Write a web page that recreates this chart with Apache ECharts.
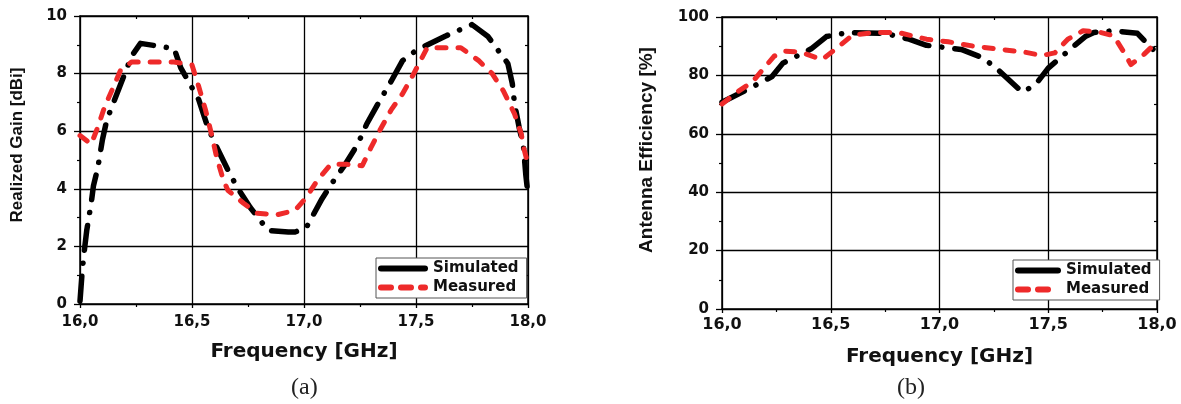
<!DOCTYPE html>
<html>
<head>
<meta charset="utf-8">
<script src="https://cdn.jsdelivr.net/npm/echarts@6/dist/echarts.min.js"></script>
<style>
html,body{margin:0;padding:0;background:#fff;}
#c{width:1181px;height:404px;}
</style>
</head>
<body>
<div id="c"></div>
<script>
// ---- Panel (a): Realized Gain [dBi] ----
const freqSimA = [16.0, 16.01, 16.02, 16.03, 16.05, 16.06, 16.08, 16.1, 16.12, 16.15, 16.19, 16.23, 16.27, 16.42, 16.45, 16.49, 16.53, 16.57, 16.61, 16.67, 16.71, 16.76, 16.84, 16.93, 16.96, 17.01, 17.08, 17.13, 17.18, 17.24, 17.28, 17.33, 17.39, 17.44, 17.5, 17.63, 17.75, 17.82, 17.91, 17.93, 17.94, 17.96, 17.98, 17.99, 18.0];
const gainSim  = [0.1, 1.16, 1.9, 2.55, 3.5, 4.1, 4.75, 5.7, 6.4, 7.0, 7.8, 8.6, 9.05, 8.87, 8.2, 7.65, 7.1, 6.15, 5.45, 4.5, 3.95, 3.35, 2.55, 2.5, 2.5, 2.65, 3.65, 4.25, 4.8, 5.55, 6.25, 6.95, 7.75, 8.45, 8.8, 9.3, 9.7, 9.3, 8.35, 7.65, 6.95, 6.15, 5.45, 4.5, 3.8];
const freqMeasA = [16.0, 16.05, 16.08, 16.11, 16.15, 16.18, 16.23, 16.31, 16.42, 16.5, 16.53, 16.56, 16.59, 16.61, 16.64, 16.66, 16.73, 16.79, 16.88, 16.96, 17.01, 17.06, 17.12, 17.19, 17.26, 17.3, 17.34, 17.39, 17.44, 17.49, 17.53, 17.55, 17.63, 17.7, 17.78, 17.84, 17.89, 17.94, 17.97, 17.98, 18.0];
const gainMeas  = [5.85, 5.55, 6.15, 6.85, 7.55, 8.1, 8.4, 8.4, 8.4, 8.3, 7.55, 6.75, 5.8, 5.1, 4.3, 3.95, 3.5, 3.15, 3.1, 3.25, 3.7, 4.3, 4.85, 4.85, 4.8, 5.45, 6.05, 6.75, 7.3, 8.0, 8.6, 8.9, 8.9, 8.9, 8.45, 8.0, 7.4, 6.6, 5.9, 5.45, 4.85];

// ---- Panel (b): Antenna Efficiency [%] ----
const freqSimB = [16.0, 16.14, 16.23, 16.28, 16.41, 16.48, 16.58, 16.75, 16.86, 16.94, 17.1, 17.2, 17.27, 17.38, 17.44, 17.5, 17.6, 17.67, 17.71, 17.8, 17.91, 17.98, 18.0];
const effSim   = [70.8, 76.1, 79.6, 84.2, 89.1, 93.3, 94.7, 94.4, 92.4, 90.3, 88.9, 86.0, 81.9, 74.3, 76.7, 82.5, 88.9, 93.3, 94.7, 95.3, 94.4, 88.9, 90.0];
const freqMeasB = [16.0, 16.07, 16.14, 16.2, 16.24, 16.29, 16.36, 16.46, 16.52, 16.6, 16.7, 16.81, 16.94, 17.04, 17.15, 17.28, 17.39, 17.47, 17.53, 17.59, 17.66, 17.74, 17.8, 17.85, 17.88, 17.94, 18.0];
const effMeas   = [70.2, 74.3, 77.8, 83.1, 86.6, 88.3, 88.0, 85.4, 88.9, 93.8, 94.7, 94.7, 92.4, 91.5, 90.1, 88.9, 88.0, 86.8, 87.7, 92.4, 95.3, 94.7, 93.6, 87.7, 83.7, 87.2, 91.5];

// ---- Axis ticks / labels ----
const xTicks = [16.0, 16.5, 17.0, 17.5, 18.0];
const yTicksA = [0, 2, 4, 6, 8, 10];
const yTicksB = [0, 20, 40, 60, 80, 100];
const seriesNames = ['Simulated', 'Measured'];
const xTitle = 'Frequency [GHz]';
const yTitleA = 'Realized Gain [dBi]';
const yTitleB = 'Antenna Efficiency [%]';
const panelLabels = ['(a)', '(b)'];

const pairs = (xs, ys) => xs.map((x, i) => [x, ys[i]]);
const BOLD = 'DejaVu Sans';
const RED = '#ee2a2a';
const simStyle = {color: '#000', width: 5.5, type: [25, 13, 0.1, 13], cap: 'round', join: 'round'};
const measStyle = {color: RED, width: 5, type: [9, 12], cap: 'round', join: 'round'};

function xAx(grid, fontSize, margin) {
  return {
    type: 'value', gridIndex: grid, min: xTicks[0], max: xTicks[xTicks.length - 1], interval: 0.5,
    name: xTitle, nameLocation: 'middle', nameGap: 38,
    nameTextStyle: {fontFamily: BOLD, fontWeight: 'bold', fontSize: 20, color: '#111'},
    axisLine: {show: true, onZero: false, lineStyle: {color: '#000', width: 1.5}},
    axisTick: {show: true, length: 4, lineStyle: {color: '#000', width: 1.3}},
    minorTick: {show: true, splitNumber: 2, length: 3, lineStyle: {color: '#000', width: 1.2}},
    splitLine: {show: true, lineStyle: {color: '#000', width: 1.3}},
    axisLabel: {fontFamily: BOLD, fontWeight: 'bold', fontSize: fontSize, color: '#111', margin: margin,
      formatter: v => v.toFixed(1).replace('.', ',')}
  };
}
function xTop(grid) {
  return {
    type: 'value', gridIndex: grid, position: 'top', min: xTicks[0], max: xTicks[xTicks.length - 1], interval: 0.5,
    axisLine: {show: true, onZero: false, lineStyle: {color: '#000', width: 1.5}},
    axisTick: {show: false, inside: true},
    minorTick: {show: true, splitNumber: 2, length: 3, lineStyle: {color: '#000', width: 1.2}},
    axisLabel: {show: false}, splitLine: {show: false}
  };
}
function yAx(grid, ticks, name, nameGap, fontSize, nameSize, shift) {
  return {
    type: 'value', gridIndex: grid, min: ticks[0], max: ticks[ticks.length - 1], interval: ticks[1] - ticks[0],
    name: name, nameLocation: 'middle', nameGap: nameGap, nameRotate: 90,
    nameTextStyle: {fontFamily: 'Liberation Sans', fontWeight: 'bold', fontSize: nameSize, color: '#111', padding: [0, 0, 0, shift]},
    axisLine: {show: true, onZero: false, lineStyle: {color: '#000', width: 1.5}},
    axisTick: {show: true, length: 6, lineStyle: {color: '#000', width: 1.3}},
    minorTick: {show: true, splitNumber: 2, length: 3, lineStyle: {color: '#000', width: 1.2}},
    splitLine: {show: true, lineStyle: {color: '#000', width: 1.3}},
    axisLabel: {fontFamily: BOLD, fontWeight: 'bold', fontSize: fontSize, color: '#111', margin: 13}
  };
}
function yRight(grid, ticks) {
  return {
    type: 'value', gridIndex: grid, position: 'right', min: ticks[0], max: ticks[ticks.length - 1], interval: ticks[1] - ticks[0],
    axisLine: {show: true, onZero: false, lineStyle: {color: '#000', width: 1.5}},
    axisTick: {show: false, inside: true},
    minorTick: {show: true, splitNumber: 2, length: 3, lineStyle: {color: '#000', width: 1.2}},
    axisLabel: {show: false}, splitLine: {show: false}
  };
}
function legendAt(left, top, iconW) {
  return {
    left: left, top: top, orient: 'vertical', itemGap: 4, itemWidth: iconW, itemHeight: 14,
    padding: [3, 8, 3, 2], borderColor: '#555', borderWidth: 1, backgroundColor: '#fff',
    textStyle: {fontFamily: BOLD, fontWeight: 'bold', fontSize: 15, color: '#111', padding: [0, 0, 0, 3]},
    data: [
      {name: seriesNames[0], itemStyle: {opacity: 0}, lineStyle: {color: '#000', width: 6, type: 'solid', cap: 'round'}},
      {name: seriesNames[1], itemStyle: {opacity: 0}, lineStyle: {color: RED, width: 6, type: [10, 10], cap: 'round'}}
    ]
  };
}

const chart = echarts.init(document.getElementById('c'), null, {renderer: 'canvas'});
chart.setOption({
  animation: false,
  backgroundColor: '#fff',
  grid: [
    {left: 80, top: 16, width: 448, height: 288},
    {left: 722, top: 17, width: 435, height: 292}
  ],
  xAxis: [xAx(0, 15, 11), xAx(1, 16, 8), xTop(0), xTop(1)],
  yAxis: [yAx(0, yTicksA, yTitleA, 54, 15, 17, 30), yAx(1, yTicksB, yTitleB, 66, 15, 19, 26), yRight(0, yTicksA), yRight(1, yTicksB)],
  legend: [legendAt(376, 258, 44), legendAt(1013, 260, 40)],
  series: [
    {name: seriesNames[0], type: 'line', xAxisIndex: 0, yAxisIndex: 0, data: pairs(freqSimA, gainSim), showSymbol: false, symbol: 'none', lineStyle: simStyle, itemStyle: {color: '#000'}, z: 3},
    {name: seriesNames[1], type: 'line', xAxisIndex: 0, yAxisIndex: 0, data: pairs(freqMeasA, gainMeas), showSymbol: false, symbol: 'none', lineStyle: measStyle, itemStyle: {color: RED}, z: 4},
    {name: seriesNames[0], type: 'line', xAxisIndex: 1, yAxisIndex: 1, data: pairs(freqSimB, effSim), showSymbol: false, symbol: 'none', lineStyle: simStyle, itemStyle: {color: '#000'}, z: 3},
    {name: seriesNames[1], type: 'line', xAxisIndex: 1, yAxisIndex: 1, data: pairs(freqMeasB, effMeas), showSymbol: false, symbol: 'none', lineStyle: measStyle, itemStyle: {color: RED}, z: 4}
  ],
  graphic: [
    {type: 'text', left: 291, top: 376, style: {text: panelLabels[0], font: '24px "Liberation Serif"', fill: '#222'}},
    {type: 'text', left: 897, top: 376, style: {text: panelLabels[1], font: '24px "Liberation Serif"', fill: '#222'}}
  ]
});
</script>
</body>
</html>
